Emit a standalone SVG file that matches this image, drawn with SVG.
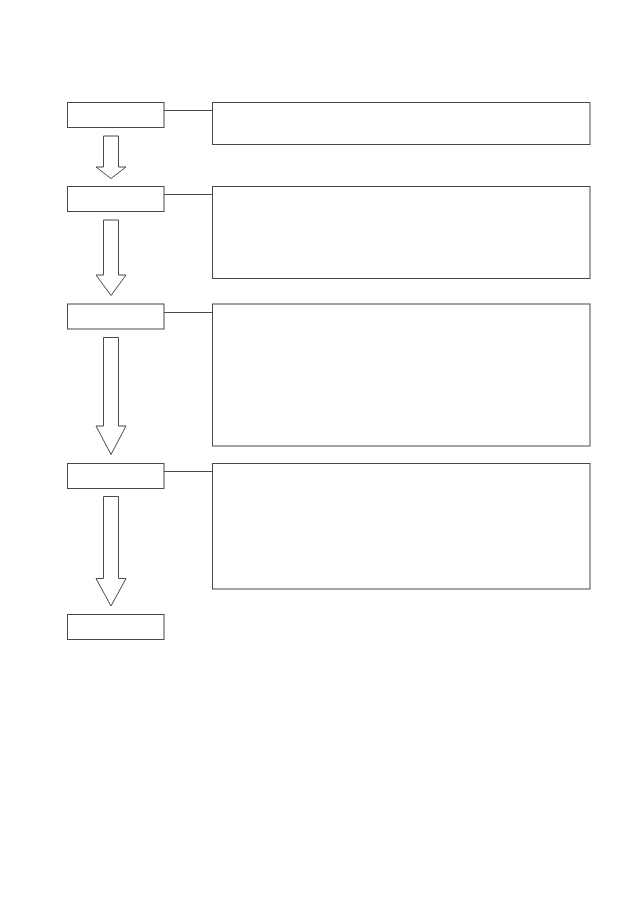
<svg xmlns="http://www.w3.org/2000/svg" width="640" height="906" viewBox="0 0 640 906">
<style>
.box{fill:#fff;stroke:#4a4a4a;stroke-width:1}
.arr{fill:#fff;stroke:#4a4a4a;stroke-width:1;stroke-linejoin:miter}
.ln{stroke:#4a4a4a;stroke-width:1;fill:none}
</style>
<rect width="640" height="906" fill="#fff"/>
<g id="connectors">
<line class="ln" x1="164" y1="110.5" x2="213" y2="110.5"/>
<line class="ln" x1="164" y1="194.5" x2="213" y2="194.5"/>
<line class="ln" x1="164" y1="312.5" x2="213" y2="312.5"/>
<line class="ln" x1="164" y1="471.5" x2="213" y2="471.5"/>
<polygon class="arr" points="103.5,136 118.5,136 118.5,167 126,167 111,178.5 96,167 103.5,167"/>
<polygon class="arr" points="103.5,220 118.5,220 118.5,275 126,275 111,295.5 96,275 103.5,275"/>
<polygon class="arr" points="103.5,337.5 118.5,337.5 118.5,426 126,426 111,454.5 96,426 103.5,426"/>
<polygon class="arr" points="103.5,496.5 118.5,496.5 118.5,578.5 126,578.5 111,606 96,578.5 103.5,578.5"/>
</g>
<g id="step1"><rect class="box" x="67.5" y="102.5" width="96.5" height="25"/></g>
<g id="step2"><rect class="box" x="67.5" y="186.5" width="96.5" height="25"/></g>
<g id="step3"><rect class="box" x="67.5" y="304" width="96.5" height="25"/></g>
<g id="step4"><rect class="box" x="67.5" y="463.5" width="96.5" height="25"/></g>
<g id="step5"><rect class="box" x="67.5" y="614.5" width="96.5" height="25"/></g>
<g id="note1"><rect class="box" x="212.5" y="102.5" width="377.5" height="42"/></g>
<g id="note2"><rect class="box" x="212.5" y="186.5" width="377.5" height="92"/></g>
<g id="note3"><rect class="box" x="212.5" y="304" width="377.5" height="142"/></g>
<g id="note4"><rect class="box" x="212.5" y="463.5" width="377.5" height="125.5"/></g>
</svg>
